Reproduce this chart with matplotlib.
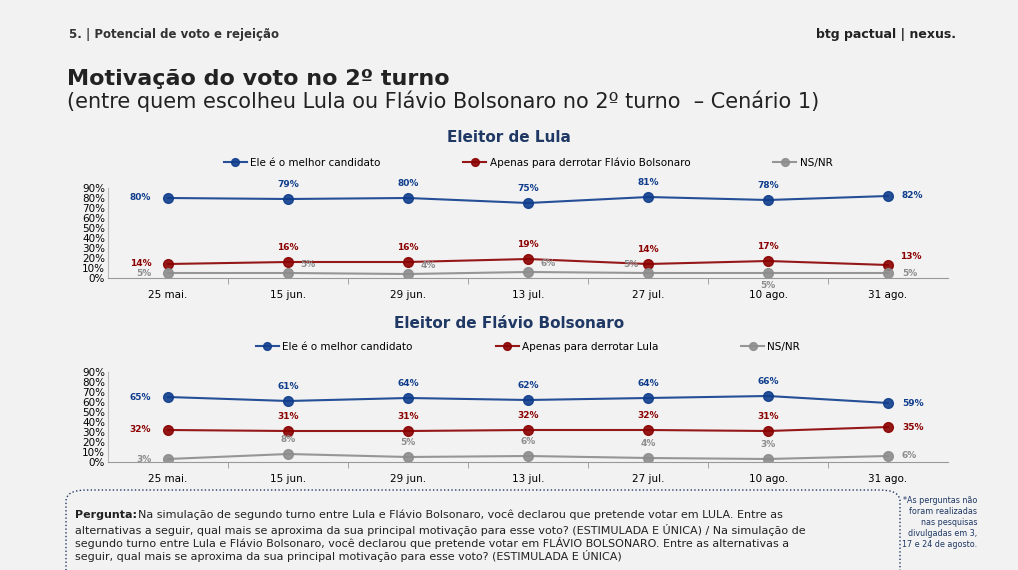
import matplotlib.pyplot as plt
from matplotlib.patches import FancyBboxPatch

datas = ['25 mai.', '15 jun.', '29 jun.', '13 jul.', '27 jul.', '10 ago.', '31 ago.']

lula_melhor = [80, 79, 80, 75, 81, 78, 82]
lula_derrotar = [14, 16, 16, 19, 14, 17, 13]
lula_nsnr = [5, 5, 4, 6, 5, 5, 5]

flavio_melhor = [65, 61, 64, 62, 64, 66, 59]
flavio_derrotar = [32, 31, 31, 32, 32, 31, 35]
flavio_nsnr = [3, 8, 5, 6, 4, 3, 6]

AZUL = '#0f3d8c'
VERM = '#8b0000'
CINZA = '#8c8c8c'
BG = '#f2f2f2'

# label placement per point: l=left, a=above, r=right, b=below, ar=above-right, al=above-left
pos_lula = [['l', 'a', 'a', 'a', 'a', 'a', 'r'],
            ['l', 'a', 'a', 'a', 'a', 'a', 'ar'],
            ['l', 'ar', 'ar', 'ar', 'al', 'b', 'r']]
pos_flavio = [['l', 'a', 'a', 'a', 'a', 'a', 'r'],
              ['l', 'a', 'a', 'a', 'a', 'a', 'r'],
              ['l', 'a', 'a', 'a', 'a', 'a', 'r']]
offs = {'l': (-12, 0, 'right', 'center'), 'a': (0, 7, 'center', 'bottom'),
        'r': (10, 0, 'left', 'center'), 'b': (0, -6, 'center', 'top'),
        'ar': (9, 3, 'left', 'bottom'), 'al': (-7, 3, 'right', 'bottom')}

fig = plt.figure(figsize=(10.18, 5.70), dpi=100)
fig.patch.set_facecolor(BG)

fig.text(0.068, 0.94, '5. | Potencial de voto e rejeição', fontsize=8.5, fontweight='bold', color='#333333', va='center')
fig.text(0.87, 0.94, 'btg pactual | nexus.', fontsize=9, fontweight='bold', color='#222222', va='center', ha='center')
fig.text(0.066, 0.862, 'Motivação do voto no 2º turno', fontsize=16, fontweight='bold', color='#222222', va='center')
fig.text(0.066, 0.822, '(entre quem escolheu Lula ou Flávio Bolsonaro no 2º turno  – Cenário 1)', fontsize=15, color='#222222', va='center')


def painel(bottom, titulo, series, legendas, posicoes, ty):
    ax = fig.add_axes([108 / 1018, bottom, 840 / 1018, 90 / 570])
    ax.set_facecolor(BG)
    x = list(range(len(datas)))
    cores = [AZUL, VERM, CINZA]
    for vals, cor, lab, ps in zip(series, cores, legendas, posicoes):
        ax.plot(x, vals, color=cor, lw=1.5, marker='o', ms=7, label=lab, alpha=0.9)
        for xi, v, p in zip(x, vals, ps):
            dx, dy, ha, va = offs[p]
            ax.annotate(f'{v}%', (xi, v), xytext=(dx, dy), textcoords='offset points',
                        ha=ha, va=va, fontsize=6.5, fontweight='bold', color=cor)
    ax.set_xlim(-0.5, len(datas) - 0.5)
    ax.set_ylim(0, 90)
    ax.set_yticks(range(0, 91, 10))
    ax.set_yticklabels([f'{t}%' for t in range(0, 91, 10)], fontsize=7.5)
    ax.set_xticks(x)
    ax.set_xticklabels(datas, fontsize=7.5)
    ax.set_xticks([i + 0.5 for i in range(len(datas) - 1)], minor=True)
    ax.tick_params(axis='x', which='major', length=0, pad=9)
    ax.tick_params(axis='x', which='minor', length=4, color='#999999')
    ax.tick_params(axis='y', length=0, pad=2)
    for s in ['top', 'right']:
        ax.spines[s].set_visible(False)
    ax.spines['left'].set_color('#bbbbbb')
    ax.spines['bottom'].set_color('#999999')
    fig.text(0.5, ty, titulo, fontsize=11, fontweight='bold', color='#1f3864', ha='center', va='center')
    ax.legend(loc='lower center', bbox_to_anchor=(0.5, 1.12), ncol=3, frameon=False,
              fontsize=7.5, columnspacing=8, handlelength=2.2, handletextpad=0.3, markerscale=0.8)
    return ax


painel(1 - 278 / 570, 'Eleitor de Lula', [lula_melhor, lula_derrotar, lula_nsnr],
       ['Ele é o melhor candidato', 'Apenas para derrotar Flávio Bolsonaro', 'NS/NR'], pos_lula, 1 - 137 / 570)
painel(1 - 462 / 570, 'Eleitor de Flávio Bolsonaro', [flavio_melhor, flavio_derrotar, flavio_nsnr],
       ['Ele é o melhor candidato', 'Apenas para derrotar Lula', 'NS/NR'], pos_flavio, 1 - 323 / 570)

box = FancyBboxPatch((66 / 1018, -0.05), 834 / 1018, 1 - 490 / 570 + 0.05, boxstyle='round,pad=0,rounding_size=0.02',
                     transform=fig.transFigure, fill=False, ls=':', lw=1, ec='#1f3864')
fig.patches.append(box)
y0 = 1 - 510 / 570
fig.text(0.074, y0, 'Pergunta:', fontsize=8, fontweight='bold', color='#222222', va='top')
fig.text(0.074 + 0.062, y0, 'Na simulação de segundo turno entre Lula e Flávio Bolsonaro, você declarou que pretende votar em LULA. Entre as',
         fontsize=8, color='#222222', va='top')
fig.text(0.074, y0 - 0.025,
         'alternativas a seguir, qual mais se aproxima da sua principal motivação para esse voto? (ESTIMULADA E ÚNICA) / Na simulação de'
         '\nsegundo turno entre Lula e Flávio Bolsonaro, você declarou que pretende votar em FLÁVIO BOLSONARO. Entre as alternativas a'
         '\nseguir, qual mais se aproxima da sua principal motivação para esse voto? (ESTIMULADA E ÚNICA)',
         fontsize=8, color='#222222', va='top', linespacing=1.1)
fig.text(0.96, 0.13, '*As perguntas não\nforam realizadas\nnas pesquisas\ndivulgadas em 3,\n17 e 24 de agosto.',
         fontsize=5.8, color='#1f3864', ha='right', va='top', linespacing=1.3)

fig.savefig('out.png', dpi=100, facecolor=BG)
